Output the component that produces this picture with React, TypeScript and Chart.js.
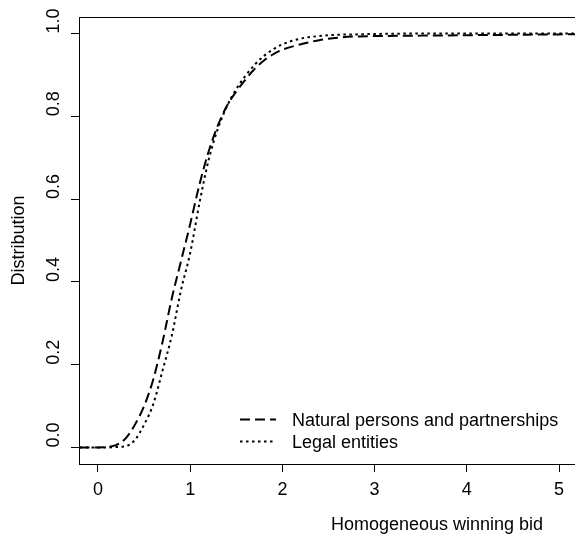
import React, { useEffect, useRef } from "react";
import { Chart, registerables } from "chart.js";

Chart.register(...registerables);

// ---- data ----
const bidValues = [-0.2, 0, 0.1, 0.2, 0.3, 0.4, 0.5, 0.6, 0.7, 0.8, 0.9, 1.0, 1.1, 1.2, 1.3, 1.4, 1.5, 1.6, 1.7, 1.8, 1.9, 2.0, 2.2, 2.4, 2.6, 2.8, 3.0, 3.5, 4.0, 4.5, 5.0, 5.4];
const naturalPersons = [0, 0, 0.001, 0.006, 0.022, 0.055, 0.1, 0.165, 0.255, 0.36, 0.45, 0.54, 0.635, 0.715, 0.778, 0.826, 0.86, 0.889, 0.915, 0.935, 0.95, 0.961, 0.974, 0.984, 0.99, 0.993, 0.994, 0.995, 0.996, 0.997, 0.998, 0.999];
const legalEntities = [0, 0, 0, 0.001, 0.003, 0.018, 0.055, 0.105, 0.186, 0.27, 0.38, 0.47, 0.59, 0.695, 0.77, 0.825, 0.866, 0.898, 0.925, 0.946, 0.962, 0.974, 0.988, 0.994, 0.997, 0.998, 0.999, 1, 1, 1, 1, 1];
const seriesLabels = ["Natural persons and partnerships", "Legal entities"];
const xTicks = [0, 1, 2, 3, 4, 5];
const yTicks = [0, 0.2, 0.4, 0.6, 0.8, 1.0];
const xTitle = "Homogeneous winning bid";
const yTitle = "Distribution";

const FONT_FAMILY = "'Liberation Sans', Arial, Helvetica, sans-serif";
const FONT = { family: FONT_FAMILY, size: 18 };

const framePlugin = {
  id: "frameTop",
  afterDraw(chart: any) {
    const { ctx, chartArea } = chart;
    ctx.save();
    ctx.strokeStyle = "#000";
    ctx.lineWidth = 1;
    ctx.beginPath();
    ctx.moveTo(chartArea.left, chartArea.top + 0.5);
    ctx.lineTo(chartArea.right, chartArea.top + 0.5);
    ctx.stroke();
    ctx.restore();
  },
};

const legendPlugin = {
  id: "insetLegend",
  afterDraw(chart: any) {
    const { ctx } = chart;
    ctx.save();
    chart.data.datasets.forEach((ds: any, i: number) => {
      const y = 421.5 + i * 22;
      ctx.strokeStyle = ds.borderColor;
      ctx.lineWidth = ds.borderWidth;
      ctx.setLineDash(ds.borderDash || []);
      ctx.beginPath();
      ctx.moveTo(240, y - 2);
      ctx.lineTo(276, y - 2);
      ctx.stroke();
      ctx.setLineDash([]);
      ctx.fillStyle = "#000";
      ctx.font = `18px ${FONT_FAMILY}`;
      ctx.textAlign = "left";
      ctx.textBaseline = "middle";
      ctx.fillText(ds.label, 292, y);
    });
    ctx.restore();
  },
};

const xTitlePlugin = {
  id: "xTitle",
  afterDraw(chart: any) {
    const { ctx } = chart;
    ctx.save();
    ctx.fillStyle = "#000";
    ctx.font = `18px ${FONT_FAMILY}`;
    ctx.textAlign = "center";
    ctx.textBaseline = "middle";
    ctx.fillText(xTitle, 437, 525);
    ctx.restore();
  },
};

export default function App() {
  const ref = useRef<HTMLCanvasElement | null>(null);

  useEffect(() => {
    if (!ref.current) return;
    const chart = new Chart(ref.current, {
      type: "line",
      data: {
        datasets: [
          {
            label: seriesLabels[0],
            data: bidValues.map((x, i) => ({ x, y: naturalPersons[i] })),
            borderColor: "#000",
            borderWidth: 2,
            borderDash: [10, 5],
            pointRadius: 0,
            fill: false,
            cubicInterpolationMode: "monotone",
          },
          {
            label: seriesLabels[1],
            data: bidValues.map((x, i) => ({ x, y: legalEntities[i] })),
            borderColor: "#000",
            borderWidth: 2,
            borderDash: [2.5, 3.5],
            pointRadius: 0,
            fill: false,
            cubicInterpolationMode: "monotone",
          },
        ],
      },
      options: {
        animation: false,
        responsive: false,
        maintainAspectRatio: false,
        layout: { padding: { left: 0, right: 0, top: 17, bottom: 0 } },
        plugins: {
          legend: { display: false },
          tooltip: { enabled: false },
          title: { display: false },
        },
        scales: {
          x: {
            type: "linear",
            min: -0.206,
            max: 5.173,
            afterBuildTicks: (s: any) => {
              s.ticks = xTicks.map((v) => ({ value: v }));
            },
            afterFit: (s: any) => {
              s.height = 77;
            },
            ticks: {
              font: FONT,
              color: "#000",
              padding: 7,
              maxRotation: 0,
              autoSkip: false,
              callback: (v: any) => String(v),
            },
            grid: {
              display: true,
              drawOnChartArea: false,
              drawTicks: true,
              tickLength: 8,
              color: "#000",
              lineWidth: 1,
            },
            border: { display: true, color: "#000", width: 1 },
          },
          y: {
            type: "linear",
            min: -0.04,
            max: 1.04,
            afterBuildTicks: (s: any) => {
              s.ticks = yTicks.map((v) => ({ value: v }));
            },
            afterFit: (s: any) => {
              s.width = 79;
            },
            ticks: {
              font: FONT,
              color: "#000",
              mirror: true,
              padding: -25,
              crossAlign: "near",
              minRotation: 90,
              maxRotation: 90,
              autoSkip: false,
              callback: (v: any) => Number(v).toFixed(1),
            },
            grid: {
              display: true,
              drawOnChartArea: false,
              drawTicks: true,
              tickLength: 8,
              color: "#000",
              lineWidth: 1,
            },
            border: { display: true, color: "#000", width: 1 },
            title: {
              display: true,
              text: yTitle,
              font: FONT,
              color: "#000",
              padding: { top: 8, bottom: 0 },
            },
          },
        },
      },
      plugins: [framePlugin, legendPlugin, xTitlePlugin],
    } as any);
    return () => chart.destroy();
  }, []);

  return (
    <div style={{ position: "fixed", left: 0, top: 0, width: 575, height: 541, background: "#fff" }}>
      <canvas ref={ref} width={575} height={541} style={{ display: "block" }} />
    </div>
  );
}
